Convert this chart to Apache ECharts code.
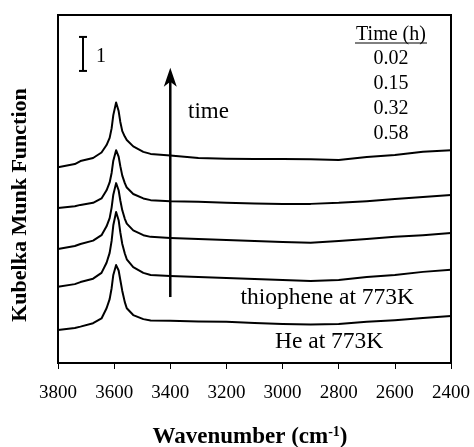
<!DOCTYPE html>
<html>
<head>
<meta charset="utf-8">
<script src="https://cdn.jsdelivr.net/npm/echarts@6/dist/echarts.min.js"></script>
<style>
  html, body { margin: 0; padding: 0; background: #fff; }
  #chart { width: 474px; height: 447px; }
</style>
</head>
<body>
<div id="chart"></div>
<script>
// Wavenumber grid (cm-1) shared by all spectra
const wavenumbers = [3800, 3740, 3720, 3675, 3645, 3627, 3616, 3609, 3603, 3593, 3584, 3578, 3571, 3562, 3555, 3532, 3496, 3470, 3400, 3300, 3200, 3100, 3000, 2900, 2800, 2700, 2600, 2500, 2400];

// Kubelka-Munk spectra, stacked with vertical offsets (bottom to top)
const heAt773K = [0.97, 1.03, 1.07, 1.17, 1.31, 1.61, 1.88, 2.20, 2.59, 2.88, 2.72, 2.44, 2.12, 1.79, 1.61, 1.41, 1.29, 1.25, 1.24, 1.22, 1.21, 1.18, 1.15, 1.13, 1.15, 1.21, 1.26, 1.32, 1.38];
const time002h = [2.24, 2.32, 2.38, 2.48, 2.65, 2.95, 3.24, 3.59, 4.05, 4.44, 4.20, 3.84, 3.50, 3.22, 3.05, 2.82, 2.65, 2.59, 2.56, 2.53, 2.50, 2.47, 2.44, 2.41, 2.44, 2.53, 2.59, 2.68, 2.74];
const time015h = [3.35, 3.44, 3.50, 3.60, 3.76, 4.02, 4.26, 4.57, 4.95, 5.29, 5.08, 4.78, 4.49, 4.24, 4.10, 3.90, 3.76, 3.71, 3.68, 3.65, 3.62, 3.59, 3.56, 3.54, 3.59, 3.65, 3.71, 3.76, 3.82];
const time032h = [4.56, 4.61, 4.65, 4.71, 4.84, 5.08, 5.31, 5.59, 5.95, 6.26, 6.07, 5.79, 5.51, 5.29, 5.16, 4.97, 4.84, 4.79, 4.76, 4.74, 4.71, 4.69, 4.68, 4.68, 4.71, 4.76, 4.82, 4.88, 4.94];
const time058h = [5.76, 5.85, 5.94, 6.03, 6.19, 6.41, 6.62, 6.90, 7.29, 7.66, 7.41, 7.09, 6.82, 6.66, 6.56, 6.37, 6.21, 6.15, 6.10, 6.03, 6.01, 6.00, 6.00, 5.99, 5.97, 6.06, 6.12, 6.21, 6.26];

const timeLabels = ['0.02', '0.15', '0.32', '0.58'];

// Scale bar: one Kubelka-Munk unit
const scaleBar = { at: 3711, from: 8.59, to: 9.59 };
// "time" arrow
const timeArrow = { at: 3400, from: 1.94, to: 8.68 };

const serif = '"Liberation Serif", "Times New Roman", serif';

function pairs(ys) { return wavenumbers.map((w, i) => [w, ys[i]]); }

const spectra = [heAt773K, time002h, time015h, time032h, time058h].map(ys => ({
  type: 'line',
  data: pairs(ys),
  showSymbol: false,
  symbol: 'none',
  silent: true,
  lineStyle: { color: '#000', width: 2, join: 'round' },
  z: 3
}));

const chart = echarts.init(document.getElementById('chart'), null, { renderer: 'canvas' });

chart.setOption({
  animation: false,
  backgroundColor: '#fff',
  grid: { left: 58, right: 23, top: 15, bottom: 84, show: true, borderColor: '#000', borderWidth: 2, backgroundColor: 'transparent' },
  xAxis: {
    type: 'value', min: 2400, max: 3800, interval: 200, inverse: true,
    axisLine: { show: true, lineStyle: { color: '#000', width: 2 } },
    axisTick: { show: true, inside: false, length: 6, lineStyle: { color: '#000', width: 1 } },
    axisLabel: { color: '#000', fontFamily: serif, fontSize: 19, margin: 21, formatter: v => String(v) },
    splitLine: { show: false }
  },
  yAxis: {
    type: 'value', min: 0, max: 10.235,
    axisLine: { show: true, lineStyle: { color: '#000', width: 2 } },
    axisTick: { show: false }, axisLabel: { show: false }, splitLine: { show: false }
  },
  series: spectra.concat([
    {
      type: 'custom',
      silent: true,
      data: [[scaleBar.at, scaleBar.from, scaleBar.to]],
      renderItem: (params, api) => {
        const p0 = api.coord([api.value(0), api.value(1)]);
        const p1 = api.coord([api.value(0), api.value(2)]);
        const st = { stroke: '#000', lineWidth: 2 };
        return { type: 'group', children: [
          { type: 'line', shape: { x1: p0[0], y1: p0[1], x2: p1[0], y2: p1[1] }, style: st },
          { type: 'line', shape: { x1: p0[0] - 4, y1: p0[1], x2: p0[0] + 4, y2: p0[1] }, style: st },
          { type: 'line', shape: { x1: p1[0] - 4, y1: p1[1], x2: p1[0] + 4, y2: p1[1] }, style: st }
        ]};
      }
    },
    {
      type: 'custom',
      silent: true,
      data: [[timeArrow.at, timeArrow.from, timeArrow.to]],
      renderItem: (params, api) => {
        const p0 = api.coord([api.value(0), api.value(1)]);
        const p1 = api.coord([api.value(0), api.value(2)]);
        const x = p1[0], y = p1[1];
        return { type: 'group', children: [
          { type: 'line', shape: { x1: p0[0], y1: p0[1], x2: x, y2: y + 10 }, style: { stroke: '#000', lineWidth: 2.5 } },
          { type: 'polygon', shape: { points: [[x, y], [x - 6.5, y + 19], [x, y + 14], [x + 6.5, y + 19]] }, style: { fill: '#000' } }
        ]};
      }
    }
  ]),
  graphic: [
    { type: 'text', left: 96, top: 47, style: { text: '1', font: '20px ' + serif, fill: '#000' } },
    { type: 'text', left: 188, top: 100, style: { text: 'time', font: '23px ' + serif, fill: '#000' } },
    { type: 'text', x: 391, y: 35, style: { text: 'Time (h)', font: '20px ' + serif, fill: '#000', align: 'center', verticalAlign: 'middle' } },
    { type: 'line', shape: { x1: 355, y1: 43, x2: 427, y2: 43 }, style: { stroke: '#000', lineWidth: 1 } },
    ...timeLabels.map((t, i) => ({ type: 'text', x: 391, y: [59, 84, 109, 134][i], style: { text: t, font: '20px ' + serif, fill: '#000', align: 'center', verticalAlign: 'middle' } })),
    { type: 'text', x: 414, y: 298, style: { text: 'thiophene at 773K', font: '23.5px ' + serif, fill: '#000', align: 'right', verticalAlign: 'middle' } },
    { type: 'text', x: 275, y: 342, style: { text: 'He at 773K', font: '23.5px ' + serif, fill: '#000', align: 'left', verticalAlign: 'middle' } },
    { type: 'text', x: 20, y: 205, rotation: Math.PI / 2, style: { text: 'Kubelka Munk Function', font: 'bold 22px ' + serif, fill: '#000', align: 'center', verticalAlign: 'middle' } },
    { type: 'text', x: 250, y: 437, style: {
        text: '{b|Wavenumber (cm}{s|-1}{b|)}', align: 'center', verticalAlign: 'middle',
        rich: {
          b: { font: 'bold 23px ' + serif, color: '#000' },
          s: { font: 'bold 14px ' + serif, color: '#000', verticalAlign: 'top', padding: [0, 0, 10, 0] }
        }
      } }
  ]
});
</script>
</body>
</html>
